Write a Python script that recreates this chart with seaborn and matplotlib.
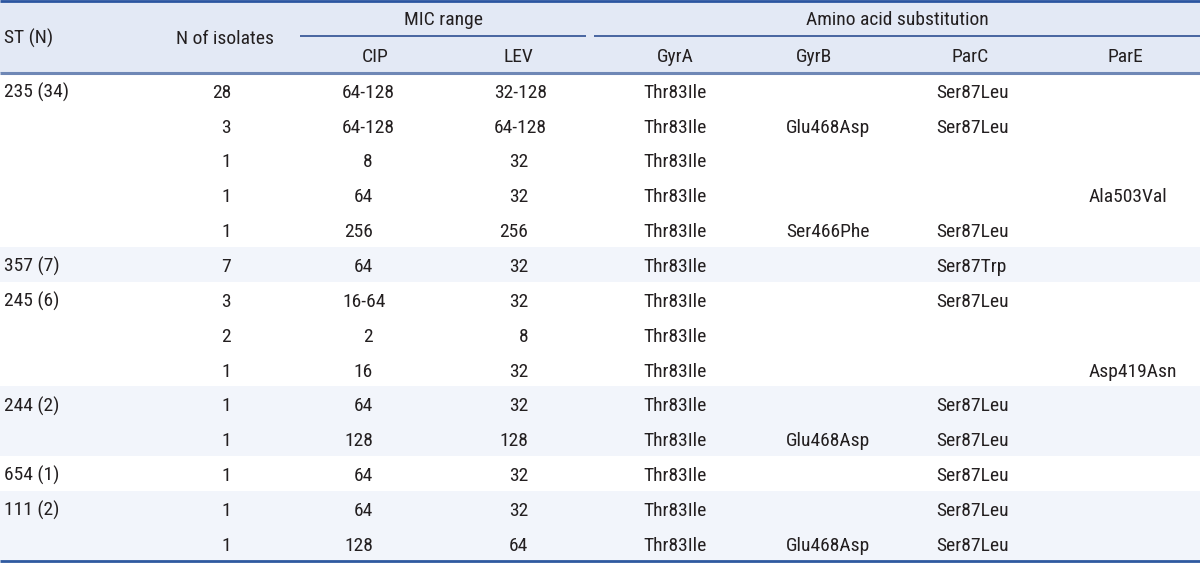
import matplotlib
matplotlib.use("Agg")
import matplotlib.pyplot as plt
from matplotlib import font_manager
import seaborn as sns

# ---- data ----
st_groups = ["235 (34)", "", "", "", "", "357 (7)", "245 (6)", "", "", "244 (2)", "", "654 (1)", "111 (2)", ""]
n_isolates = [28, 3, 1, 1, 1, 7, 3, 2, 1, 1, 1, 1, 1, 1]
cip = ["64-128", "64-128", "8", "64", "256", "64", "16-64", "2", "16", "64", "128", "64", "64", "128"]
lev = ["32-128", "64-128", "32", "32", "256", "32", "32", "8", "32", "32", "128", "32", "32", "64"]
gyra = ["Thr83Ile"] * 14
gyrb = ["", "Glu468Asp", "", "", "Ser466Phe", "", "", "", "", "", "Glu468Asp", "", "", "Glu468Asp"]
parc = ["Ser87Leu", "Ser87Leu", "", "", "Ser87Leu", "Ser87Trp", "Ser87Leu", "", "", "Ser87Leu",
        "Ser87Leu", "Ser87Leu", "Ser87Leu", "Ser87Leu"]
pare = ["", "", "", "Ala503Val", "", "", "", "", "Asp419Asn", "", "", "", "", ""]

header_top = ["ST (N)", "N of isolates", "MIC range", "Amino acid substitution"]
header_sub = ["CIP", "LEV", "GyrA", "GyrB", "ParC", "ParE"]

# ---- style ----
sns.set_theme(style="white")
available = {f.name for f in font_manager.fontManager.ttflist}
family = "DejaVu Sans"
for cand in ["Liberation Sans Narrow", "Roboto Condensed", "Open Sans Condensed", "Liberation Sans"]:
    if cand in available:
        family = cand
        break
plt.rcParams["font.family"] = [family, "DejaVu Sans"]

W, H = 1200, 563
fig = plt.figure(figsize=(12, 5.63), dpi=100)
ax = fig.add_axes([0, 0, 1, 1])
ax.set_xlim(0, W)
ax.set_ylim(H, 0)
ax.axis("off")

TXT = "#231f20"
FS = 14
HEAD_BG = "#e3e9f5"
STRIPE = "#f2f5fb"

header_bottom = 72.5
body_bottom = 560.5
n = len(n_isolates)
row_h = (body_bottom - header_bottom) / n

# header background
ax.axhspan(0, header_bottom, color=HEAD_BG, zorder=0, lw=0)

# stripes per ST group (alternating)
g = -1
for i in range(n):
    if st_groups[i]:
        g += 1
    if g % 2 == 1:
        ax.axhspan(header_bottom + i * row_h, header_bottom + (i + 1) * row_h,
                   color=STRIPE, zorder=0, lw=0)

# rules
ax.plot([0, W], [1, 1], color="#2b55a0", lw=2, solid_capstyle="butt", zorder=3)
ax.plot([0, W], [header_bottom, header_bottom], color="#6f88b6", lw=2.2, solid_capstyle="butt", zorder=3)
ax.plot([300, 586], [36, 36], color="#3b5b9a", lw=1.3, solid_capstyle="butt", zorder=3)
ax.plot([594, W], [36, 36], color="#3b5b9a", lw=1.3, solid_capstyle="butt", zorder=3)
ax.plot([0, W], [body_bottom + 0.8, body_bottom + 0.8], color="#2f5aa0", lw=2, solid_capstyle="butt", zorder=3)

def put(x, yc, s, ha="left"):
    ax.text(x, yc + 6.8, s, ha=ha, va="baseline", fontsize=FS, color=TXT, zorder=4)

# header text
put(4, 37, header_top[0])
put(225, 37, header_top[1], ha="center")
put(443, 18, header_top[2], ha="center")
put(897, 18, header_top[3], ha="center")
sub_x = [375, 518, 675, 814, 970, 1125]
for x, s in zip(sub_x, header_sub):
    put(x, 55, s, ha="center")

# body
for i in range(n):
    yc = header_bottom + (i + 0.5) * row_h + 1
    if st_groups[i]:
        put(4, yc, st_groups[i])
    put(231, yc, str(n_isolates[i]), ha="right")
    if "-" in cip[i]:
        put(342, yc, cip[i])
    else:
        put(373, yc, cip[i], ha="right")
    if "-" in lev[i]:
        put(494, yc, lev[i])
    else:
        put(528, yc, lev[i], ha="right")
    put(643, yc, gyra[i])
    put(786, yc, gyrb[i])
    put(936, yc, parc[i])
    put(1089, yc, pare[i])

fig.savefig("out.png", dpi=100, facecolor="white")
